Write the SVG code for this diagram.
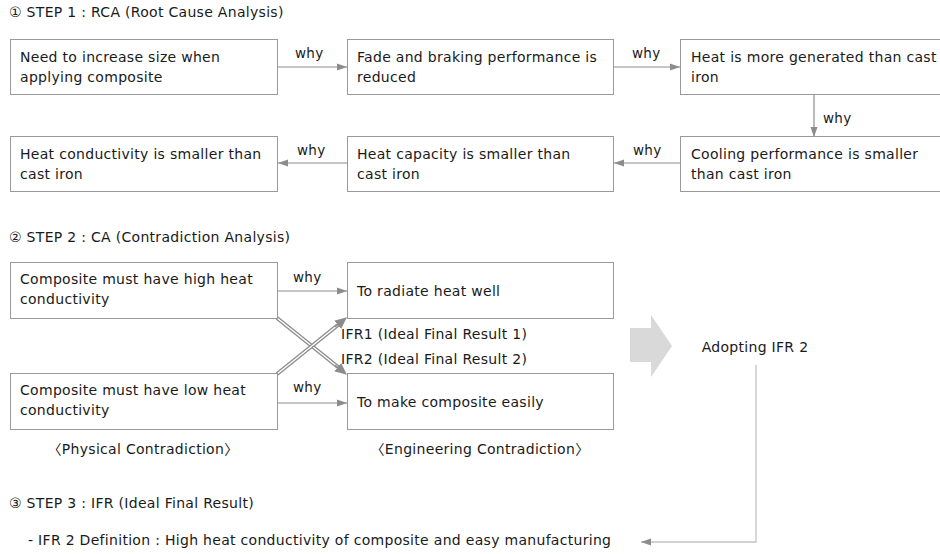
<svg xmlns="http://www.w3.org/2000/svg" width="940" height="554" viewBox="0 0 940 554">
<style>
text{font-family:"DejaVu Sans","Noto Sans CJK KR",sans-serif;font-size:14px;fill:#1a1a1a;letter-spacing:0.3px}
.box{fill:#fff;stroke:#9a9a9a;stroke-width:1}
.ln{fill:none;stroke:#8c8c8c;stroke-width:1.2}
.lbl{font-size:13.5px}
.dbl{fill:none;stroke:#8c8c8c;stroke-width:4}
.dbli{fill:none;stroke:#fff;stroke-width:1.4}
</style>
<defs>
<marker id="ah" viewBox="0 0 10 10" refX="10" refY="5" markerWidth="10" markerHeight="10" markerUnits="userSpaceOnUse" orient="auto">
<path d="M0,1.5 L10,5 L0,8.5 Z" fill="#8c8c8c"/>
</marker>
<marker id="ah2" viewBox="0 0 10 10" refX="9" refY="5" markerWidth="12" markerHeight="12" markerUnits="userSpaceOnUse" orient="auto">
<path d="M0,0.5 L10,5 L0,9.5 Z" fill="#8c8c8c"/>
</marker>
</defs>
<rect width="940" height="554" fill="#fff"/>

<text x="9" y="17">① STEP 1 : RCA (Root Cause Analysis)</text>
<text x="9" y="242">② STEP 2 : CA (Contradiction Analysis)</text>
<text x="9" y="508">③ STEP 3 : IFR (Ideal Final Result)</text>
<text x="28" y="545">- IFR 2 Definition : High heat conductivity of composite and easy manufacturing</text>

<g id="connectors">
<line class="ln" x1="278" y1="67" x2="347" y2="67" marker-end="url(#ah)"/>
<line class="ln" x1="614" y1="67" x2="680" y2="67" marker-end="url(#ah)"/>
<line class="ln" x1="814" y1="95" x2="814" y2="137" marker-end="url(#ah)"/>
<line class="ln" x1="680" y1="163" x2="614" y2="163" marker-end="url(#ah)"/>
<line class="ln" x1="347" y1="163" x2="278" y2="163" marker-end="url(#ah)"/>
<line class="ln" x1="278" y1="291" x2="347" y2="291" marker-end="url(#ah)"/>
<line class="ln" x1="278" y1="403" x2="347" y2="403" marker-end="url(#ah)"/>
<line class="dbl" x1="277" y1="318" x2="338" y2="367"/>
<line class="dbli" x1="277" y1="318" x2="338" y2="367"/>
<line class="ln" x1="335" y1="365" x2="346" y2="374" marker-end="url(#ah2)"/>
<line class="dbl" x1="277" y1="374" x2="338" y2="325"/>
<line class="dbli" x1="277" y1="374" x2="338" y2="325"/>
<line class="ln" x1="335" y1="327" x2="346" y2="318" marker-end="url(#ah2)"/>
<polyline fill="none" stroke="#c4c4c4" stroke-width="1.3" points="756,365 756,542 641,542" marker-end="url(#ah)"/>
<text class="lbl" x="295" y="58">why</text>
<text class="lbl" x="632" y="58">why</text>
<text class="lbl" x="823" y="123">why</text>
<text class="lbl" x="633" y="155">why</text>
<text class="lbl" x="297" y="155">why</text>
<text class="lbl" x="293" y="282">why</text>
<text class="lbl" x="293" y="392">why</text>
</g>

<g id="n1"><rect class="box" x="10.5" y="39.5" width="267" height="55"/><text x="20" y="62">Need to increase size when</text><text x="20" y="82">applying composite</text></g>
<g id="n2"><rect class="box" x="347.5" y="39.5" width="266" height="55"/><text x="357" y="62">Fade and braking performance is</text><text x="357" y="82">reduced</text></g>
<g id="n3"><rect class="box" x="680.5" y="39.5" width="265" height="55"/><text x="691" y="62">Heat is more generated than cast</text><text x="691" y="82">iron</text></g>
<g id="n4"><rect class="box" x="680.5" y="136.5" width="265" height="55"/><text x="691" y="159">Cooling performance is smaller</text><text x="691" y="179">than cast iron</text></g>
<g id="n5"><rect class="box" x="347.5" y="136.5" width="266" height="55"/><text x="357" y="159">Heat capacity is smaller than</text><text x="357" y="179">cast iron</text></g>
<g id="n6"><rect class="box" x="10.5" y="136.5" width="267" height="55"/><text x="20" y="159">Heat conductivity is smaller than</text><text x="20" y="179">cast iron</text></g>

<g id="n7"><rect class="box" x="10.5" y="262.5" width="267" height="56"/><text x="20" y="284">Composite must have high heat</text><text x="20" y="304">conductivity</text></g>
<g id="n8"><rect class="box" x="347.5" y="262.5" width="266" height="56"/><text x="357" y="296">To radiate heat well</text></g>
<g id="n9"><rect class="box" x="10.5" y="373.5" width="267" height="56"/><text x="20" y="395">Composite must have low heat</text><text x="20" y="415">conductivity</text></g>
<g id="n10"><rect class="box" x="347.5" y="373.5" width="266" height="56"/><text x="357" y="407">To make composite easily</text></g>

<text x="341" y="339">IFR1 (Ideal Final Result 1)</text>
<text x="341" y="364">IFR2 (Ideal Final Result 2)</text>
<text x="143" y="454" text-anchor="middle">〈Physical Contradiction〉</text>
<text x="480" y="454" text-anchor="middle">〈Engineering Contradiction〉</text>

<g id="bigarrow"><polygon points="630,328 651,328 651,315 672,346 651,377 651,362 630,362" fill="#d9d9d9"/></g>
<g id="n11"><text x="755" y="352" text-anchor="middle">Adopting IFR 2</text></g>
</svg>
